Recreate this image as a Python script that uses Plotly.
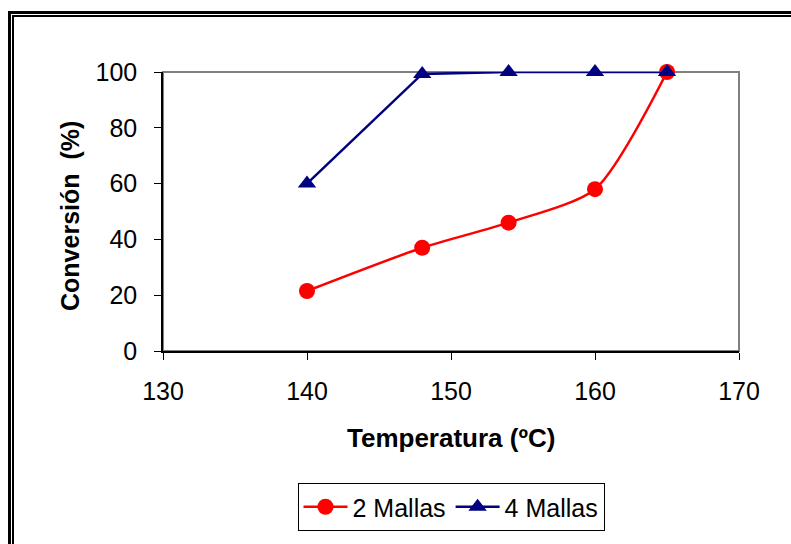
import plotly.graph_objects as go

# Temperature (ºC) and conversion (%) for each mesh configuration
temperatura = [140, 148, 154, 160, 165]
conv_2_mallas = [21.5, 37, 46, 58, 100]
conv_4_mallas = [60, 99.3, 100, 100, 100]

x_ticks = [130, 140, 150, 160, 170]
y_ticks = [0, 20, 40, 60, 80, 100]

W, H = 791, 544
L, R, T, B = 163, 739, 72, 351  # plot area in pixels


def px(x):
    return (x - L) / (R - L)


def py(y):
    return (B - y) / (B - T)


fig = go.Figure()

fig.add_trace(go.Scatter(
    x=temperatura, y=conv_2_mallas, name="2 Mallas",
    mode="lines+markers",
    line=dict(color="#ff0000", width=2.5, shape="spline", smoothing=0.7),
    marker=dict(symbol="circle", size=16, color="#ff0000"),
    cliponaxis=False,
))
fig.add_trace(go.Scatter(
    x=temperatura, y=conv_4_mallas, name="4 Mallas",
    mode="lines+markers",
    line=dict(color="#000080", width=2.5),
    marker=dict(symbol="triangle-up", size=16, color="#000080"),
    cliponaxis=False,
))

shapes = [
    # gray frame around the plot area
    dict(type="rect", xref="paper", yref="paper", x0=0, x1=1, y0=0, y1=1,
         line=dict(color="#808080", width=2), layer="below"),
]
# double border of the chart area (outer thick, inner thin)
for x0, x1, y0, y1 in [
    (8, 11, 11, H + 5),      # outer left
    (8, W + 5, 11, 14),      # outer top
    (12, 14, 15, H + 5),     # inner left
    (12, W + 5, 15, 17),     # inner top
]:
    shapes.append(dict(type="rect", xref="paper", yref="paper",
                       x0=px(x0), x1=px(x1), y0=py(y1), y1=py(y0),
                       fillcolor="black", line=dict(width=0)))

annotations = [
    dict(text="<b>Temperatura (ºC)</b>", xref="paper", yref="paper",
         x=px(451), y=py(438), xanchor="center", yanchor="middle",
         showarrow=False, font=dict(size=26, color="black")),
    dict(text="<b>Conversión  (%)</b>", xref="paper", yref="paper",
         x=px(70), y=py(216), xanchor="center", yanchor="middle",
         textangle=-90, showarrow=False, font=dict(size=25, color="black")),
]

fig.update_layout(
    width=W, height=H,
    margin=dict(l=L, r=W - R, t=T, b=H - B, pad=0),
    paper_bgcolor="white", plot_bgcolor="white",
    font=dict(family="Liberation Sans, Arial, sans-serif", size=25, color="black"),
    shapes=shapes,
    annotations=annotations,
    showlegend=True,
    legend=dict(
        orientation="h", x=px(451), y=py(483), xanchor="center", yanchor="top",
        bordercolor="black", borderwidth=1, bgcolor="white",
        font=dict(size=25), itemwidth=44, tracegroupgap=0,
    ),
    xaxis=dict(
        range=[130, 170], tickvals=x_ticks, ticktext=[str(v) for v in x_ticks],
        showgrid=False, zeroline=False, showline=True, linecolor="black", linewidth=1.5,
        ticks="outside", ticklen=7, tickcolor="black", tickwidth=1,
        ticklabelstandoff=10, fixedrange=True,
    ),
    yaxis=dict(
        range=[0, 100], tickvals=y_ticks, ticktext=[str(v) for v in y_ticks],
        showgrid=False, zeroline=False, showline=True, linecolor="black", linewidth=1.5,
        ticks="outside", ticklen=7, tickcolor="black", tickwidth=1,
        ticklabelstandoff=12, fixedrange=True,
    ),
)

fig.write_html("out.html")
